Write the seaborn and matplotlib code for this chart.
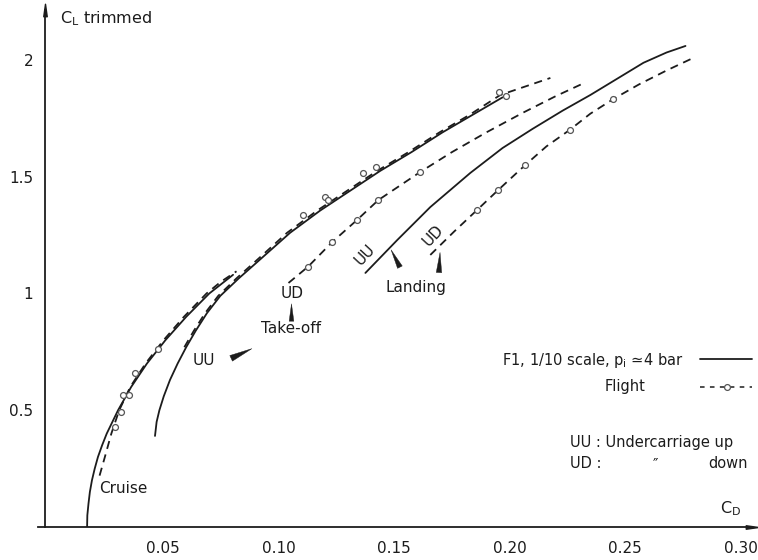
import matplotlib
matplotlib.use("Agg")
import matplotlib.pyplot as plt
import pandas as pd
import seaborn as sns
from matplotlib.path import Path
from matplotlib.markers import MarkerStyle
from matplotlib.transforms import Affine2D

# ---------------- data ----------------
cruise_tunnel_cd = [0.0171, 0.0172, 0.0177, 0.0183, 0.0192, 0.0204, 0.0218, 0.0236, 0.0256, 0.0305,
                    0.0362, 0.0430, 0.0510, 0.0600, 0.0700, 0.0803]
cruise_tunnel_cl = [0.00, 0.05, 0.10, 0.15, 0.20, 0.25, 0.30, 0.35, 0.40, 0.50,
                    0.60, 0.70, 0.80, 0.90, 1.00, 1.08]

cruise_flight_cd = [0.0225, 0.0248, 0.0276, 0.0310, 0.0358, 0.0424, 0.0502, 0.0590, 0.0688, 0.0750, 0.0818]
cruise_flight_cl = [0.22, 0.30, 0.40, 0.50, 0.60, 0.70, 0.80, 0.90, 1.00, 1.05, 1.095]
cruise_pts_cd = [0.0292, 0.0318, 0.0327, 0.0353, 0.0379, 0.0478]
cruise_pts_cl = [0.428, 0.493, 0.565, 0.565, 0.660, 0.762]

to_uu_tunnel_cd = [0.0465, 0.0472, 0.0484, 0.0503, 0.0530, 0.0563, 0.0600, 0.0641, 0.0690, 0.0748, 0.0828,
                   0.0925, 0.1050, 0.1180, 0.1310, 0.1440, 0.1575, 0.1710, 0.1840, 0.1970]
to_uu_tunnel_cl = [0.39, 0.45, 0.50, 0.56, 0.63, 0.70, 0.77, 0.84, 0.916, 0.99, 1.065,
                   1.15, 1.26, 1.355, 1.44, 1.525, 1.605, 1.69, 1.765, 1.84]

to_uu_flight_cd = [0.0592, 0.0633, 0.0682, 0.0739, 0.0818, 0.0914, 0.1037, 0.1167, 0.1297, 0.1427,
                   0.1562, 0.1697, 0.1827, 0.1960, 0.2177]
to_uu_flight_cl = [0.77, 0.84, 0.916, 0.99, 1.065, 1.15, 1.26, 1.355, 1.44, 1.525,
                   1.605, 1.69, 1.765, 1.85, 1.923]
to_uu_pts_cd = [0.1107, 0.1200, 0.1215, 0.1365, 0.1420, 0.1956, 0.1986]
to_uu_pts_cl = [1.336, 1.413, 1.400, 1.516, 1.540, 1.863, 1.846]

to_ud_flight_cd = [0.1043, 0.1128, 0.1232, 0.1340, 0.1432, 0.1613, 0.1750, 0.1900, 0.2060, 0.2200, 0.2320]
to_ud_flight_cl = [1.045, 1.115, 1.22, 1.315, 1.40, 1.52, 1.605, 1.69, 1.775, 1.845, 1.90]
to_ud_pts_cd = [0.1128, 0.1232, 0.1340, 0.1432, 0.1613]
to_ud_pts_cl = [1.115, 1.220, 1.315, 1.400, 1.520]

ld_uu_tunnel_cd = [0.1376, 0.1514, 0.1657, 0.1830, 0.1970, 0.2100, 0.2230, 0.2350, 0.2470, 0.2580, 0.2680, 0.2762]
ld_uu_tunnel_cl = [1.088, 1.229, 1.370, 1.516, 1.623, 1.705, 1.783, 1.850, 1.922, 1.988, 2.032, 2.060]

ld_ud_flight_cd = [0.1657, 0.1760, 0.1860, 0.1951, 0.2068, 0.2160, 0.2260, 0.2350, 0.2450, 0.2560, 0.2680, 0.2796]
ld_ud_flight_cl = [1.165, 1.265, 1.358, 1.443, 1.550, 1.630, 1.700, 1.770, 1.833, 1.895, 1.955, 2.009]
ld_ud_pts_cd = [0.1860, 0.1951, 0.2068, 0.2260, 0.2450]
ld_ud_pts_cl = [1.358, 1.443, 1.550, 1.700, 1.833]

x_ticks = [0.05, 0.10, 0.15, 0.20, 0.25, 0.30]
x_tick_labels = ["0.05", "0.10", "0.15", "0.20", "0.25", "0.30"]
y_ticks = [0.5, 1.0, 1.5, 2.0]
y_tick_labels = ["0.5", "1", "1.5", "2"]

# annotation labels: (text, CD, CL, rotation)
labels = [
    ("Cruise", 0.0327, 0.167, 0),
    ("UU", 0.0678, 0.715, 0),
    ("UD", 0.1060, 0.998, 0),
    ("Take-off", 0.1055, 0.852, 0),
    ("UU", 0.1376, 1.165, 47),
    ("UD", 0.1670, 1.250, 47),
    ("Landing", 0.1597, 1.024, 0),
]
# pointer wedges: (CD, CL, direction in degrees, length in points)
pointers = [
    (0.0838, 0.745, 25, 16.5),
    (0.1055, 0.921, 90, 12.5),
    (0.1506, 1.152, 117, 14.0),
    (0.1696, 1.135, 87, 14.5),
]

# ---------------- styling ----------------
sns.set_theme(style="white")
plt.rcParams["font.family"] = ["DejaVu Sans"]
plt.rcParams["mathtext.default"] = "regular"
INK = "#1c1c1c"
FS = 11

W, H = 758, 560
fig = plt.figure(figsize=(W / 100, H / 100), dpi=100)
ax_left_px, ax_right_px, ax_bot_px, ax_top_px = 38, 752, 527, 10
ax = fig.add_axes([ax_left_px / W, 1 - ax_bot_px / H,
                   (ax_right_px - ax_left_px) / W, (ax_bot_px - ax_top_px) / H])
ax.set_xlim(-0.00416, 0.305)
ax.set_ylim(0, 2.214)

solid = dict(color=INK, lw=1.3, linestyle="-")
dashed = dict(color=INK, lw=1.3, linestyle=(0, (4.5, 3.2)))


def curve(cd, cl, style):
    df = pd.DataFrame({"CD": cd, "CL": cl})
    sns.lineplot(data=df, x="CD", y="CL", sort=False, estimator=None,
                 legend=False, ax=ax, **style)


def points(cd, cl):
    df = pd.DataFrame({"CD": cd, "CL": cl})
    sns.scatterplot(data=df, x="CD", y="CL", marker="o", s=18,
                    facecolor="white", edgecolor="#555555", linewidth=0.9,
                    legend=False, ax=ax, zorder=4)


curve(cruise_tunnel_cd, cruise_tunnel_cl, solid)
curve(cruise_flight_cd, cruise_flight_cl, dashed)
curve(to_uu_tunnel_cd, to_uu_tunnel_cl, solid)
curve(to_uu_flight_cd, to_uu_flight_cl, dashed)
curve(to_ud_flight_cd, to_ud_flight_cl, dashed)
curve(ld_uu_tunnel_cd, ld_uu_tunnel_cl, solid)
curve(ld_ud_flight_cd, ld_ud_flight_cl, dashed)
points(cruise_pts_cd, cruise_pts_cl)
points(to_uu_pts_cd, to_uu_pts_cl)
points(to_ud_pts_cd, to_ud_pts_cl)
points(ld_ud_pts_cd, ld_ud_pts_cl)

# pointer wedges
wedge = Path([(0, 1.0), (-0.27, -1.0), (0.27, -1.0), (0, 1.0)],
             [Path.MOVETO, Path.LINETO, Path.LINETO, Path.CLOSEPOLY])
for cd, cl, ang, length in pointers:
    m = MarkerStyle(wedge, transform=Affine2D().rotate_deg(ang - 90))
    ax.plot([cd], [cl], marker=m, ms=length, color=INK, mec=INK, mew=0.3, ls="none")

for txt, cd, cl, rot in labels:
    ax.text(cd, cl, txt, fontsize=FS, color=INK, ha="center", va="center",
            rotation=rot, rotation_mode="anchor")

# axes
for s in ["top", "right"]:
    ax.spines[s].set_visible(False)
for s in ["left", "bottom"]:
    ax.spines[s].set_color(INK)
    ax.spines[s].set_linewidth(1.3)
ax.spines["left"].set_position(("data", -0.0011))
ax.set_xticks(x_ticks)
ax.set_xticklabels(x_tick_labels)
ax.set_yticks(y_ticks)
ax.set_yticklabels(y_tick_labels)
ax.tick_params(axis="x", direction="in", length=6, width=1.0, pad=10,
               labelsize=FS, colors=INK)
ax.tick_params(axis="y", direction="out", length=3.5, width=1.0, pad=5,
               labelsize=FS, colors=INK)
ax.set_xlabel("")
ax.set_ylabel("")
ax.grid(False)

# axis arrow heads
arrow = Path([(0, 1.0), (-0.28, -1.0), (0.28, -1.0), (0, 1.0)],
             [Path.MOVETO, Path.LINETO, Path.LINETO, Path.CLOSEPOLY])
ax.plot([0.305], [0], marker=MarkerStyle(arrow, transform=Affine2D().rotate_deg(-90)),
        ms=9, color=INK, clip_on=False, ls="none")
ax.plot([-0.0011], [2.214], marker=MarkerStyle(arrow), ms=9, color=INK,
        clip_on=False, ls="none")


def fx(px):
    return px / W


def fy(py):
    return 1 - py / H


fig.text(fx(60), fy(19), "$C_L$ trimmed", fontsize=FS + 0.5, color=INK, ha="left", va="center")
fig.text(fx(731), fy(509), "$C_D$", fontsize=FS + 0.5, color=INK, ha="center", va="center")

# legend block
fig.text(fx(683), fy(361), "F1, 1/10 scale, $p_i$ \u22434 bar", fontsize=FS - 0.5,
         color=INK, ha="right", va="center")
fig.text(fx(625), fy(387), "Flight", fontsize=FS - 0.5, color=INK, ha="center", va="center")
fig.add_artist(plt.Line2D([fx(700), fx(752)], [fy(359), fy(359)], color=INK, lw=1.3))
fig.add_artist(plt.Line2D([fx(700), fx(752)], [fy(387), fy(387)], color=INK, lw=1.1,
                          linestyle=(0, (3, 3.5))))
fig.add_artist(plt.Line2D([fx(727)], [fy(387)], marker="o", ms=4.2, mfc="white",
                          mec="#555555", mew=0.9, ls="none"))
fig.text(fx(570), fy(442), "UU : Undercarriage up", fontsize=FS - 0.5, color=INK,
         ha="left", va="center")
fig.text(fx(570), fy(464), "UD :", fontsize=FS - 0.5, color=INK, ha="left", va="center")
fig.text(fx(655), fy(465), "\u2033", fontsize=FS - 0.5, color=INK, ha="center", va="center")
fig.text(fx(748), fy(464), "down", fontsize=FS - 0.5, color=INK, ha="right", va="center")

fig.savefig("out.png", dpi=100, facecolor="white")
